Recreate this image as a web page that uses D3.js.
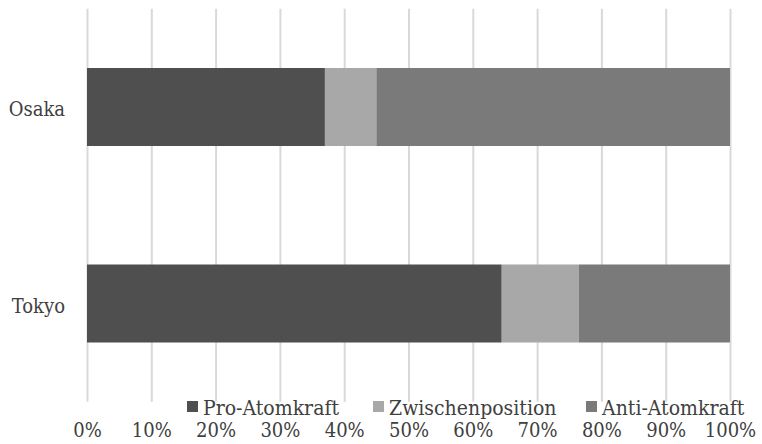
<!DOCTYPE html>
<html>
<head>
<meta charset="utf-8">
<script src="https://cdn.jsdelivr.net/npm/d3@7"></script>
<style>
  body { margin: 0; background: #fff; }
  text { font-family: "DejaVu Serif Condensed", "DejaVu Serif", serif; font-stretch: condensed; fill: #404040; }
</style>
</head>
<body>
<svg id="chart" width="762" height="444"></svg>
<script>
// data (percent of each city)
var cities = ["Osaka", "Tokyo"];
var seriesNames = ["Pro-Atomkraft", "Zwischenposition", "Anti-Atomkraft"];
var proValues = [37, 64.5];
var zwischenValues = [8, 12];
var antiValues = [55, 23.5];
var tickValues = [0, 10, 20, 30, 40, 50, 60, 70, 80, 90, 100];
var colors = ["#4f4f4f", "#a8a8a8", "#7a7a7a"];
var fontStack = "'DejaVu Serif Condensed', 'DejaVu Serif', serif";

var svg = d3.select("#chart");

var x = d3.scaleLinear().domain([0, 100]).range([87, 730]);
var y = d3.scaleBand().domain(cities).range([8.75, 401.75])
    .paddingInner(0.603).paddingOuter(0.3015);

// grid lines + tick labels
var axis = d3.axisBottom(x)
    .tickValues(tickValues)
    .tickSize(-(401.75 - 8.75))
    .tickFormat(function(d) { return d + "%"; });

var axisG = svg.append("g")
    .attr("transform", "translate(0," + 401.75 + ")")
    .call(axis);
axisG.select(".domain").remove();
axisG.selectAll(".tick line").attr("stroke", "#d9d9d9").attr("stroke-width", 2);
axisG.selectAll(".tick text")
    .attr("y", 35)
    .attr("dy", null)
    .attr("font-size", 20)
    .attr("fill", "#404040")
    .style("font-family", fontStack)
    .style("font-stretch", "condensed");

// stacked rows
var rows = cities.map(function(c, i) {
    return { city: c, values: [proValues[i], zwischenValues[i], antiValues[i]] };
});

var segs = [];
rows.forEach(function(r) {
    var start = 0;
    r.values.forEach(function(v, k) {
        segs.push({ city: r.city, x0: start, x1: start + v, k: k });
        start += v;
    });
});

svg.append("g").selectAll("rect").data(segs).enter()
    .append("rect")
    .attr("x", function(d) { return x(d.x0); })
    .attr("width", function(d) { return x(d.x1) - x(d.x0); })
    .attr("y", function(d) { return y(d.city); })
    .attr("height", y.bandwidth())
    .attr("fill", function(d) { return colors[d.k]; });

// category labels
svg.append("g").selectAll("text").data(cities).enter()
    .append("text")
    .attr("x", 65)
    .attr("y", function(d) { return y(d) + y.bandwidth() / 2; })
    .attr("dy", "0.45em")
    .attr("text-anchor", "end")
    .attr("font-size", 20)
    .text(function(d) { return d; });

// legend
var legendX = [187, 373, 586];
var leg = svg.append("g").selectAll("g").data(seriesNames).enter()
    .append("g")
    .attr("transform", function(d, i) { return "translate(" + legendX[i] + ",401)"; });
leg.append("rect")
    .attr("width", 11).attr("height", 11)
    .attr("fill", function(d, i) { return colors[i]; });
leg.append("text")
    .attr("x", 16).attr("y", 14)
    .attr("font-size", 21)
    .text(function(d) { return d; });
</script>
</body>
</html>
